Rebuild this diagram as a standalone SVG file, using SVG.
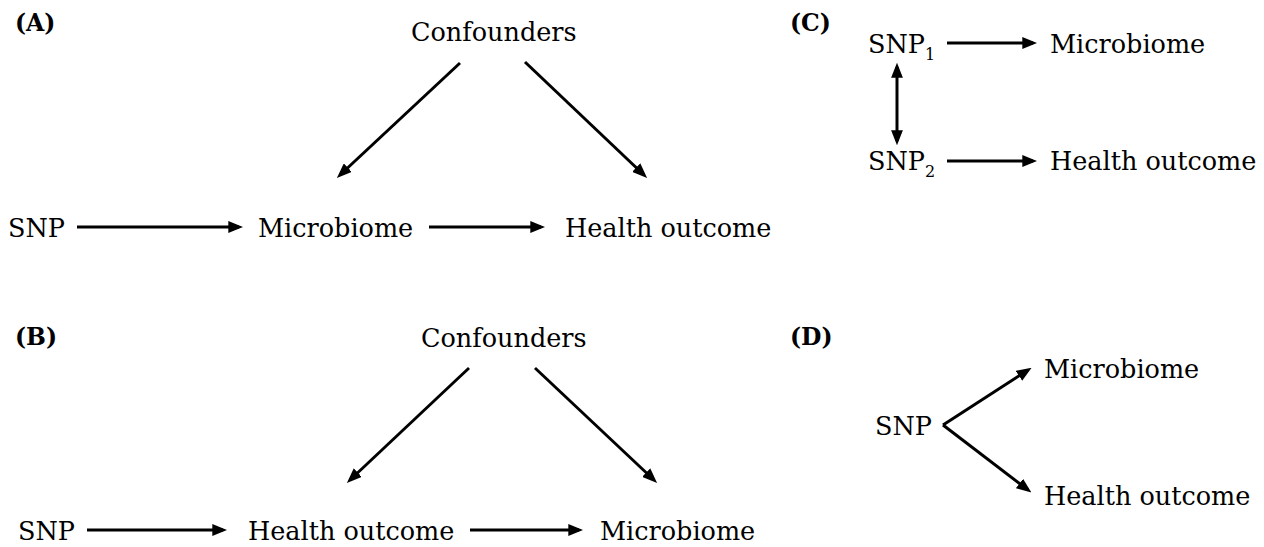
<svg xmlns="http://www.w3.org/2000/svg" width="1264" height="547" viewBox="0 0 1264 547">
<style>
.t{font-family:"DejaVu Serif","Liberation Serif",serif;font-size:25.5px;fill:#000}
.lab{font-family:"DejaVu Serif","Liberation Serif",serif;font-size:23.5px;font-weight:bold;fill:#000}
.sub{font-size:16px}
.c{stroke:#000;stroke-width:3;fill:none;marker-end:url(#ah)}
.d{marker-start:url(#ah)}
</style>
<defs>
<marker id="ah" markerUnits="userSpaceOnUse" markerWidth="15" markerHeight="12" refX="10" refY="5.5" orient="auto-start-reverse" viewBox="0 0 14 11">
<path d="M0,0 L14,5.5 L0,11 Z" fill="#000"/>
</marker>
</defs>
<rect width="1264" height="547" fill="#fff"/>
<g id="panelA">
<text class="lab" x="15" y="31">(A)</text>
<g id="A-conf"><text class="t" x="411" y="41">Confounders</text></g>
<g id="A-snp"><text class="t" x="8" y="237">SNP</text></g>
<g id="A-micro"><text class="t" x="258" y="237">Microbiome</text></g>
<g id="A-health"><text class="t" x="565" y="237">Health outcome</text></g>
</g>
<g id="panelB">
<text class="lab" x="15" y="345">(B)</text>
<g id="B-conf"><text class="t" x="421" y="347">Confounders</text></g>
<g id="B-snp"><text class="t" x="18" y="540">SNP</text></g>
<g id="B-health"><text class="t" x="248" y="540">Health outcome</text></g>
<g id="B-micro"><text class="t" x="600" y="540">Microbiome</text></g>
</g>
<g id="panelC">
<text class="lab" x="790" y="31">(C)</text>
<g id="C-snp1"><text class="t" x="868" y="53">SNP<tspan class="sub" dy="7">1</tspan></text></g>
<g id="C-snp2"><text class="t" x="868" y="170">SNP<tspan class="sub" dy="7">2</tspan></text></g>
<g id="C-micro"><text class="t" x="1050" y="53">Microbiome</text></g>
<g id="C-health"><text class="t" x="1050" y="170">Health outcome</text></g>
</g>
<g id="panelD">
<text class="lab" x="790" y="345">(D)</text>
<g id="D-snp"><text class="t" x="875" y="435">SNP</text></g>
<g id="D-micro"><text class="t" x="1044" y="378">Microbiome</text></g>
<g id="D-health"><text class="t" x="1044" y="505">Health outcome</text></g>
</g>
<g id="connectors">
<line class="c" x1="460" y1="63" x2="340" y2="175"/>
<line class="c" x1="525" y1="62" x2="644" y2="175"/>
<line class="c" x1="77" y1="227" x2="239" y2="227"/>
<line class="c" x1="429" y1="227" x2="541" y2="227"/>
<line class="c" x1="469" y1="368" x2="350" y2="480"/>
<line class="c" x1="535" y1="368" x2="654" y2="480"/>
<line class="c" x1="87" y1="530" x2="223" y2="530"/>
<line class="c" x1="470" y1="530" x2="579" y2="530"/>
<line class="c" x1="947" y1="43" x2="1033" y2="43"/>
<line class="c" x1="947" y1="161" x2="1033" y2="161"/>
<line class="c d" x1="897" y1="67" x2="897" y2="141"/>
<line class="c" x1="943" y1="425" x2="1028" y2="370"/>
<line class="c" x1="943" y1="425" x2="1028" y2="490"/>
</g>
</svg>
